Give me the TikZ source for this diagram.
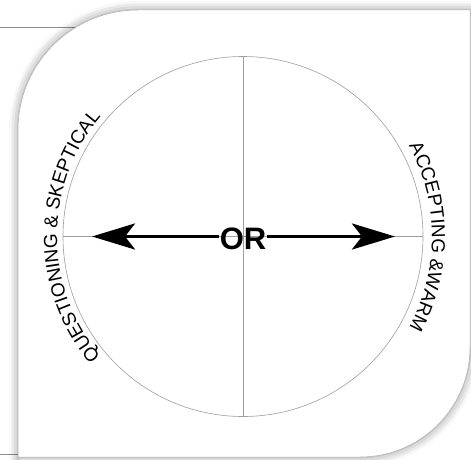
\documentclass[tikz,border=0pt]{standalone}
\usepackage{fontspec}
\setmainfont{Liberation Sans}
\newfontfamily\dialfont{Liberation Sans}
\usetikzlibrary{arrows.meta,decorations.text,shadows.blur}

\begin{document}
\begin{tikzpicture}[x=1pt,y=1pt,
  guide/.style={draw=black!38,line width=0.6pt},
  rule/.style={draw=black!45,line width=1pt},
  orarrow/.style={-{Stealth[length=43pt,width=26pt,inset=10pt]},line width=3.6pt},
  dial label/.style={decorate,decoration={text along path,text align=center,
    text={|\dialfont\fontsize{19}{22}\selectfont|#1}}}]
\useasboundingbox (0,0) rectangle (471,459);
% Page rules behind the card
\draw[rule] (0,431) -- (80,431);
\draw[rule] (0,5) -- (18,5);
% Card with rounded corners and soft shadow
\fill[white,draw=black!30,line width=0.5pt,
  blur shadow={shadow xshift=0pt,shadow yshift=0pt,shadow blur radius=9pt,shadow opacity=45}]
  (18,-20) -- (18,329) arc[start angle=180,end angle=90,radius=120]
  -- (470,449) -- (470,112) arc[start angle=0,end angle=-90,radius=110]
  -- (18,2) -- cycle;
% Dial
\coordinate (hub) at (243,222.5);
\draw[guide] (hub) circle[radius=180];
\draw[guide] (243,42.5) -- (243,402.5);
\draw[guide] (63,222.5) -- (423,222.5);
% Labels round the dial
\path[dial label={QUESTIONING {\&} SKEPTICAL}]
  (hub) ++(222:186) arc[start angle=222,end angle=138,radius=186];
\path[dial label={ACCEPTING {\&}WARM}]
  (hub) ++(31:189) arc[start angle=31,end angle=-31,radius=189];
% Choice arrow
\node[font=\bfseries\fontsize{31}{31}\selectfont,inner sep=0.8pt,yshift=-2pt] (or) at (hub) {OR};
\coordinate (lefttip) at (92,222.5);
\coordinate (righttip) at (395,222.5);
\draw[orarrow] (or.west |- hub) -- (lefttip);
\draw[orarrow] (or.east |- hub) -- (righttip);
\end{tikzpicture}
\end{document}
